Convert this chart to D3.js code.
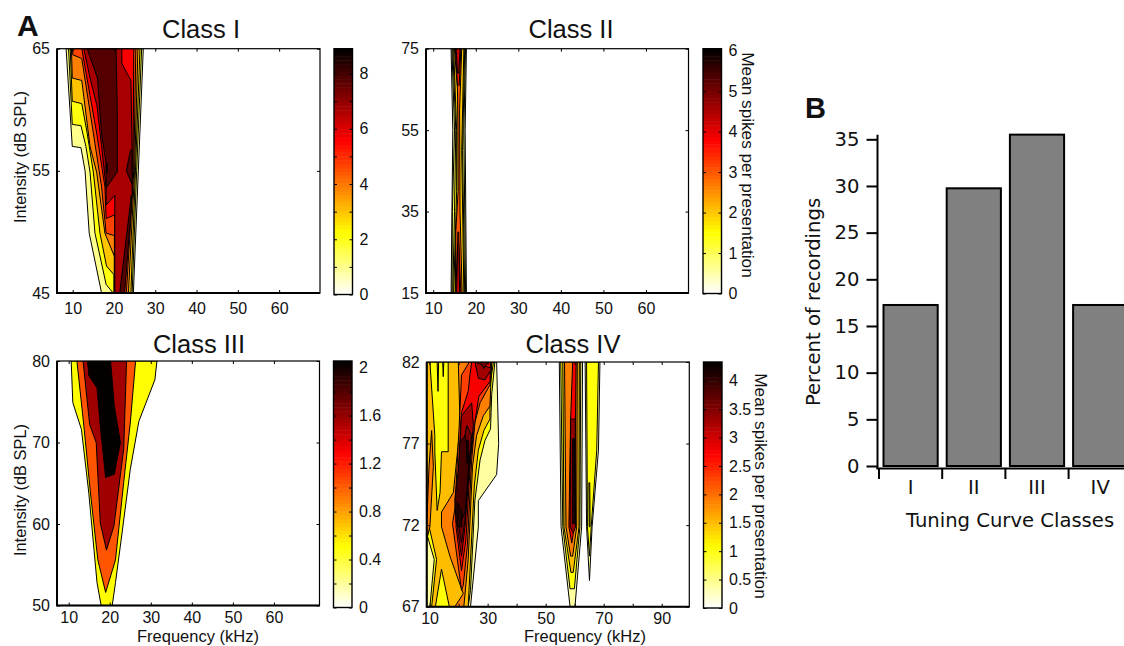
<!DOCTYPE html>
<html>
<head>
<meta charset="utf-8">
<script src="https://d3js.org/d3.v7.min.js"></script>
<style>
  body { margin: 0; background: #fff; }
  svg { display: block; }
  text { font-family: "Liberation Sans", Arial, sans-serif; fill: #111; }
  .barfig text { font-family: "DejaVu Sans", Verdana, sans-serif; }
</style>
</head>
<body>
<div id="fig"></div>
<script>
// each band: [spike level, outline as [kHz, dB SPL] pairs], painted in order like contourf
var bandsI = [
  [1.0, [[8.4,65],[9.9,57],[12,56.9],[13,55],[14,49.9],[17,45],[24.7,45],[25.9,55],[27.1,65]]],
  [2.1, [[9,65],[9.9,58.8],[12,58.7],[13.2,57],[14.2,54.9],[15.4,49.9],[18.1,45.7],[19.8,45],[24.4,45],[25.5,55],[26.7,65]]],
  [3.0, [[9.4,65],[9.9,60.7],[12.2,60.5],[13.5,58.1],[15,54.9],[16.6,49.9],[18.2,47.2],[20,46.5],[20,45],[24.1,45],[25.2,55],[26.3,65]]],
  [3.9, [[9.7,65],[9.9,62.6],[12.2,62.4],[14.2,57],[15.8,54.9],[17.8,49.9],[20.1,48],[20.1,45],[23.5,45],[25,55],[25.8,65]]],
  [4.7, [[10,65],[10,64.5],[12.2,64.2],[15,58.1],[17,53.7],[18.1,49.9],[20.1,49.7],[20.1,45],[23,45],[24.8,55],[25.3,65]]],
  [5.6, [[12.2,65],[15.8,58.1],[17.8,53.7],[18.1,51.1],[20.2,51.4],[20.2,45],[22.3,45],[24.6,55],[24.8,65]]],
  [6.7, [[12.7,65],[14.2,62.6],[15.9,60.3],[17,57],[18.1,53.6],[18.1,52.2],[20.2,53],[20.2,45],[21.5,45],[24.4,53],[24.4,56.7],[24.1,62.4],[21.9,63.8],[21.9,65]]],
  [7.8, [[13.5,65],[16,62.6],[17,58],[18.1,55.6],[18.1,53.6],[20.8,54.9],[20.8,60],[20.5,65]]],
  [7.8, [[24,56.7],[23,55],[24.4,53.9],[24.4,56.7]]],
  [7.8, [[21.4,45],[22.6,45],[24.2,52],[24.2,53]]],
  [8.6, [[18.1,55.6],[18.4,55.6],[18.4,54.9],[18.1,54.9]]]
];
var bandsII = [
  [0.5, [[14.2,75],[14.6,55],[14.2,15],[17.8,15],[17.5,55],[17.8,75]]],
  [1.0, [[14.4,75],[15,55],[14.5,35],[14.4,15],[17.6,15],[17.2,55],[17.6,75]]],
  [1.5, [[14.6,75],[15.3,55],[15,35],[14.6,15],[17.4,15],[16.9,50],[17.4,75]]],
  [2.0, [[14.8,75],[15.5,55],[15.5,40],[14.8,15],[17.2,15],[16.7,50],[17.2,75]]],
  [3.0, [[15,75],[15.7,65],[15.8,55],[15.85,40],[15.3,30],[15.2,15],[16.8,15],[16.3,35],[16.2,60],[16.7,75]]],
  [3.6, [[15.2,75],[15.7,66],[16.1,66],[16.5,75]]],
  [3.6, [[15.3,15],[15.7,27],[16,27],[16.5,15]]],
  [4.2, [[15.4,75],[15.7,69],[16,69],[16.3,75]]],
  [4.2, [[15.5,15],[15.8,30],[16,30],[16.2,15]]]
];
var bandsIII = [
  [0.52, [[10.6,80],[11,74.9],[13.1,71.6],[14.9,63.8],[16.9,52.8],[17.9,50],[20.6,50],[21.4,52.8],[23,58.9],[25,66.7],[27.1,72.6],[31,77.7],[31.5,80]]],
  [1.03, [[12,80],[13.7,72],[15.3,63.8],[17.1,55.6],[19,51.6],[21.4,55.6],[23.4,65.1],[25,72.4],[26.3,80]]],
  [1.57, [[13.5,80],[15.1,72.2],[16.7,70],[17.7,60.1],[19.2,56.8],[21,59.7],[23.4,69.2],[24.1,80]]],
  [2.04, [[14.6,80],[14.9,78.2],[16.9,76.7],[17.7,72],[19,65.7],[21.1,66.1],[22.6,70],[21.1,74.5],[20.2,80]]]
];
var bandsIV = [
  // low frequency lobe
  [0.4, [[9,82],[33.1,82],[33.8,77],[33.1,75.1],[26.8,73.5],[26.8,71.9],[24.1,67],[9,67]]],
  [1.05, [[9,82],[32.5,82],[31.4,80],[31,77.9],[29.1,77.2],[27.4,76],[25.6,73.5],[24.1,68],[23.3,67],[10.1,67],[11.6,69.9],[9.3,71.3],[9,71.5]]],
  [1.5, [[9,82],[32,82],[30.8,80.5],[30.8,78.5],[28.7,77.8],[26.8,76.6],[25.4,74.4],[23.3,67],[10.7,67],[12.4,69.9],[10.1,71.7],[9,72.1]]],
  [1.05, [[10.1,82],[11.8,77.5],[11.8,76.5],[12.6,72.9],[13.6,74],[14.1,76.5],[16.4,76.5],[16.4,82]]],
  [1.5, [[12.6,82],[12.9,80.2],[13.1,82]]],
  [1.5, [[14.5,82],[14.7,81.1],[14.9,82]]],
  [1.9, [[10.7,77.8],[9.8,75.6],[9,71.9],[9,71.1],[10.1,71.9],[11.3,75.6]]],
  [1.05, [[14.1,69.3],[12,67],[16.8,67]]],
  [1.9, [[19.9,82],[31.4,82],[30.8,79.3],[28.5,78.7],[26.2,77.5],[24.8,75.6],[23.3,69.9],[21.8,67],[18.7,67],[21.6,67.8],[17,70.1],[14.1,71.9],[14.1,72.8],[18.2,74],[20.5,78.1]]],
  [2.3, [[23.7,82],[31,82],[30.8,80.6],[27.4,79.5],[25.6,78.3],[24.5,76],[23,70.7],[21.6,68.3],[21,68],[17.9,72.1],[18.7,73],[20.2,78.1],[21,81.2]]],
  [2.75, [[24.5,82],[31,82],[30.8,80.8],[27,79.9],[25.6,78.3],[24.1,76],[22.5,71.1],[21,69.2],[19.1,71.9],[19.7,74],[20.7,78.1],[21,78.9],[23.3,80.2],[23.9,81.2]]],
  [3.3, [[25.6,82],[26.8,81],[29.1,80.9],[31.4,81.6]]],
  [3.3, [[21,78.7],[24.5,79.5],[25.1,78.1],[23.9,76],[22.2,71.9],[21,70.1],[19.5,71.9],[20.1,75],[20.8,78.1]]],
  [3.6, [[27.4,82],[30.2,82],[28.7,81.6]]],
  [3.6, [[22.8,78.1],[24.5,77.5],[23.7,76],[22.2,72.3],[21,70.9],[19.9,72.1],[20.5,76]]],
  [3.9, [[22.2,77.5],[23.7,76],[22.2,72.8],[20.5,72.1],[19.1,72.1],[18.7,73.6],[19.9,75.4],[20.5,77.1]]],
  [4.1, [[22.8,77.2],[22.8,75.8],[23.3,75.8],[23.3,77.2]]],
  [4.1, [[19.5,73.4],[19.5,71.9],[21.1,71.9],[21.1,72.8]]],
  // 58 kHz lobe
  [0.4, [[54.7,82],[55.3,71.9],[58.4,67],[60.1,67],[62.4,71.9],[62.7,82]]],
  [1.05, [[55.2,82],[55.9,71.9],[58.4,68.1],[59.9,68.1],[61.8,71.9],[62.1,82]]],
  [1.5, [[55.9,82],[56.3,71.9],[58.7,69.1],[59.5,69.1],[61.5,71.9],[61.6,82]]],
  [1.9, [[56.5,82],[57,71.9],[58.6,70.1],[59.3,70.1],[60.7,71.9],[60.9,82]]],
  [2.75, [[59.3,82],[58.6,78.5],[58,71.9],[59,70.9],[59.9,71.9],[60.5,82]]],
  [3.4, [[58.6,78.5],[58.4,71.9],[59.5,71.5],[60.3,71.9],[60.2,78.5]]],
  [4.1, [[59.3,77.3],[59.3,72.1],[60.1,72.1],[59.9,77.3]]],
  // 65 kHz lobe
  [0.4, [[63.6,82],[64.1,71.9],[65.1,68.6],[66,71.9],[68.2,76.6],[68.7,82]]],
  [1.05, [[64.1,82],[64.4,71.9],[65.1,70.1],[65.7,71.9],[67.6,76.6],[68.2,82]]],
  [1.5, [[64.9,74.6],[65,71.9],[65.3,71.9],[65.2,74.6]]]
];

var freqTicksI = [10, 20, 30, 40, 50, 60];
var freqTicksIV = [10, 20, 30, 40, 50, 60, 70, 80, 90];
var freqLabelsIV = [10, 30, 50, 70, 90];
var dbTicksI = [45, 55, 65];
var dbTicksII = [15, 35, 55, 75];
var dbTicksIII = [50, 60, 70, 80];
var dbTicksIV = [67, 72, 77, 82];

var barTicksI = [0, 1, 2, 3, 4, 5, 6, 7, 8];
var barLabelsI = [0, 2, 4, 6, 8];
var barTicksII = [0, 1, 2, 3, 4, 5, 6];
var barTicksIII = [0, 0.2, 0.4, 0.6, 0.8, 1, 1.2, 1.4, 1.6, 1.8, 2];
var barLabelsIII = [0, 0.4, 0.8, 1.2, 1.6, 2];
var barTicksIV = [0, 0.5, 1, 1.5, 2, 2.5, 3, 3.5, 4];

var classNames = ["I", "II", "III", "IV"];
var percentRecordings = [17.25, 29.75, 35.5, 17.25];
var percentTicks = [0, 5, 10, 15, 20, 25, 30, 35];

var svg = d3.select("#fig").append("svg").attr("width", 1124).attr("height", 646);

// flipped matlab hot
var hotr = d3.scaleLinear().domain([0, 0.25, 0.625, 1]).range(["#ffffff", "#ffff00", "#ff0000", "#000000"]);

var panels = [
  {name: "Class I", bands: bandsI, x: [57, 320], y: [48.7, 293], fd: [6.2, 69.9], db: [45, 65], ft: freqTicksI, fl: freqTicksI, dt: dbTicksI, tp: 10,
    cx: 334, cy: [48.7, 294.5], cmax: 8.9, ct: barTicksI, cl: barLabelsI, tx: 201, ty: 38, ylab: 157, xlab: null, cbar: null},
  {name: "Class II", bands: bandsII, x: [426, 688.5], y: [48.7, 293], fd: [8.3, 70], db: [15, 75], ft: freqTicksI, fl: freqTicksI, dt: dbTicksII, tp: 10,
    cx: 703, cy: [48.7, 293.5], cmax: 6.05, ct: barTicksII, cl: barTicksII, tx: 571, ty: 38, ylab: null, xlab: null, cbar: [741.5, 165]},
  {name: "Class III", bands: bandsIII, x: [57, 319.5], y: [361, 605.5], fd: [7.15, 71.1], db: [50, 80], ft: freqTicksI, fl: freqTicksI, dt: dbTicksIII, tp: 6.5,
    cx: 333.5, cy: [361, 607.5], cmax: 2.055, ct: barTicksIII, cl: barLabelsIII, tx: 199, ty: 353, ylab: 490, xlab: [198, 642.3], cbar: null},
  {name: "Class IV", bands: bandsIV, x: [426.7, 689.3], y: [362, 606.7], fd: [9, 99.5], db: [67, 82], ft: freqTicksIV, fl: freqLabelsIV, dt: dbTicksIV, tp: 5.5,
    cx: 703.5, cy: [362, 608], cmax: 4.33, ct: barTicksIV, cl: barTicksIV, tx: 573, ty: 353, ylab: null, xlab: [585, 642.3], cbar: [755, 486]}
];

panels.forEach(function(p, i) {
  var x = d3.scaleLinear().domain(p.fd).range(p.x);
  var y = d3.scaleLinear().domain(p.db).range([p.y[1], p.y[0]]);
  var g = svg.append("g").attr("class", "panel");

  g.append("clipPath").attr("id", "clip" + i).append("rect")
    .attr("x", p.x[0]).attr("y", p.y[0])
    .attr("width", p.x[1] - p.x[0]).attr("height", p.y[1] - p.y[0]);

  var outline = d3.line().x(function(d) { return x(d[0]); }).y(function(d) { return y(d[1]); })
    .curve(d3.curveLinearClosed);

  g.append("g").attr("clip-path", "url(#clip" + i + ")")
    .selectAll("path").data(p.bands).enter().append("path")
    .attr("d", function(d) { return outline(d[1]); })
    .attr("fill", function(d) { return hotr(d[0] / p.cmax); })
    .attr("stroke", "#000").attr("stroke-width", 1).attr("stroke-linejoin", "round");

  // frame, heavier along the bottom and left
  g.append("rect").attr("x", p.x[0]).attr("y", p.y[0])
    .attr("width", p.x[1] - p.x[0]).attr("height", p.y[1] - p.y[0])
    .attr("fill", "none").attr("stroke", "#000").attr("stroke-width", 1.2);
  g.append("path").attr("d", "M" + p.x[0] + "," + p.y[0] + "V" + p.y[1] + "H" + p.x[1])
    .attr("fill", "none").attr("stroke", "#000").attr("stroke-width", 2);

  var ax = d3.axisBottom(x).tickValues(p.ft).tickSize(-3).tickPadding(p.tp)
    .tickFormat(function(d) { return p.fl.indexOf(d) >= 0 ? d : ""; });
  var axg = g.append("g").attr("transform", "translate(0," + p.y[1] + ")").call(ax);
  var ay = d3.axisLeft(y).tickValues(p.dt).tickSize(-3).tickPadding(7);
  var ayg = g.append("g").attr("transform", "translate(" + p.x[0] + ",0)").call(ay);
  g.append("g").attr("transform", "translate(0," + p.y[0] + ")")
    .call(d3.axisTop(x).tickValues(p.ft).tickSize(-3).tickFormat(""));
  g.append("g").attr("transform", "translate(" + p.x[1] + ",0)")
    .call(d3.axisRight(y).tickValues(p.dt).tickSize(-3).tickFormat(""));
  g.selectAll(".domain").remove();
  axg.selectAll("text").style("font-size", "16px");
  ayg.selectAll("text").style("font-size", "16px");

  g.append("text").attr("x", p.tx).attr("y", p.ty).attr("text-anchor", "middle")
    .style("font-size", "25.5px").text(p.name);

  if (p.ylab) {
    g.append("text").attr("transform", "translate(26," + p.ylab + ") rotate(-90)")
      .attr("text-anchor", "middle").style("font-size", "16.4px").text("Intensity (dB SPL)");
  }
  if (p.xlab) {
    g.append("text").attr("x", p.xlab[0]).attr("y", p.xlab[1]).attr("text-anchor", "middle")
      .style("font-size", "16.5px").text("Frequency (kHz)");
  }

  // colour bar
  var cw = 18.5;
  var c = d3.scaleLinear().domain([0, p.cmax]).range([p.cy[1], p.cy[0]]);
  var steps = d3.range(64);
  g.selectAll(".cbar").data(steps).enter().append("rect").attr("class", "cbar")
    .attr("x", p.cx).attr("width", cw)
    .attr("y", function(d) { return c((d + 1) / 64 * p.cmax); })
    .attr("height", (p.cy[1] - p.cy[0]) / 64 + 0.5)
    .attr("fill", function(d) { return hotr((d + 0.5) / 64); });
  g.append("rect").attr("x", p.cx).attr("y", p.cy[0]).attr("width", cw).attr("height", p.cy[1] - p.cy[0])
    .attr("fill", "none").attr("stroke", "#000").attr("stroke-width", 1.4);
  var cax = d3.axisRight(c).tickValues(p.ct).tickSize(-3).tickPadding(7)
    .tickFormat(function(d) { return p.cl.indexOf(d) >= 0 ? d : ""; });
  var cg = g.append("g").attr("transform", "translate(" + (p.cx + cw) + ",0)").call(cax);
  g.append("g").attr("transform", "translate(" + p.cx + ",0)")
    .call(d3.axisLeft(c).tickValues(p.ct).tickSize(-3).tickFormat(""));
  cg.selectAll("text").style("font-size", "16px");
  g.selectAll(".domain").remove();

  if (p.cbar) {
    g.append("text").attr("transform", "translate(" + p.cbar[0] + "," + p.cbar[1] + ") rotate(90)")
      .attr("text-anchor", "middle").style("font-size", "17.2px").text("Mean spikes per presentation");
  }
});

svg.append("text").attr("x", 17).attr("y", 36).style("font-size", "30px").style("font-weight", "bold").text("A");

// panel B
var bfig = svg.append("g").attr("class", "barfig");
var bx = d3.scaleBand().domain(classNames).range([879, 1131.8]).paddingInner(0);
var by = d3.scaleLinear().domain([0, 35]).range([466, 139.3]);

bfig.selectAll("rect").data(percentRecordings).enter().append("rect")
  .attr("x", function(d, i) { return bx(classNames[i]) + 4.5; })
  .attr("width", bx.bandwidth() - 9)
  .attr("y", function(d) { return by(d); })
  .attr("height", function(d) { return by(0) - by(d); })
  .attr("fill", "#808080").attr("stroke", "#000").attr("stroke-width", 2);

var byg = bfig.append("g").attr("transform", "translate(877.5,0)")
  .call(d3.axisLeft(by).tickValues(percentTicks).tickSize(11).tickPadding(7));
byg.selectAll(".domain").remove();
byg.selectAll("line").attr("stroke-width", 2);
byg.selectAll("text").style("font-size", "19.6px");
bfig.append("line").attr("x1", 877.5).attr("x2", 877.5).attr("y1", by(35.5)).attr("y2", 469)
  .attr("stroke", "#000").attr("stroke-width", 2);

var bxg = bfig.append("g").attr("transform", "translate(0,468.5)")
  .call(d3.axisBottom(bx).tickSize(0).tickPadding(12));
bxg.selectAll(".domain").remove();
bxg.selectAll("text").style("font-size", "19.6px");
bfig.append("line").attr("x1", 876.5).attr("x2", 1124).attr("y1", 468.5).attr("y2", 468.5)
  .attr("stroke", "#000").attr("stroke-width", 2);
bfig.selectAll(".sep").data(classNames).enter().append("line").attr("class", "sep")
  .attr("x1", function(d) { return bx(d); }).attr("x2", function(d) { return bx(d); })
  .attr("y1", 468.5).attr("y2", 479).attr("stroke", "#000").attr("stroke-width", 2);

bfig.append("text").attr("x", 1010).attr("y", 527).attr("text-anchor", "middle")
  .style("font-size", "19.6px").text("Tuning Curve Classes");
bfig.append("text").attr("transform", "translate(820,302) rotate(-90)").attr("text-anchor", "middle")
  .style("font-size", "19.6px").text("Percent of recordings");

svg.append("text").attr("x", 805).attr("y", 118).style("font-size", "29px").style("font-weight", "bold").text("B");
</script>
</body>
</html>
